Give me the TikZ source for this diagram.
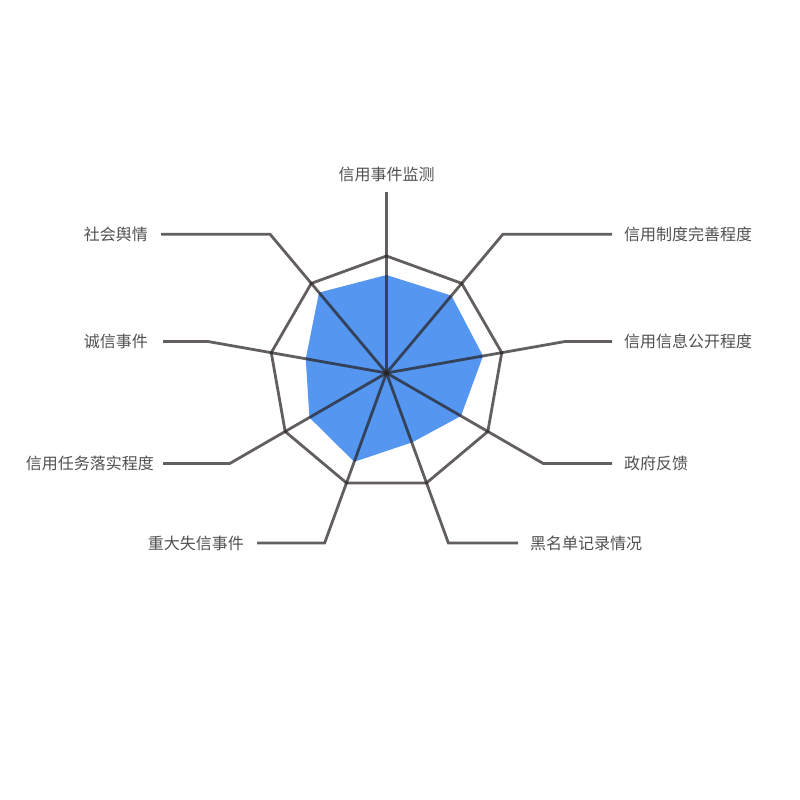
\documentclass[tikz,border=0pt]{standalone}
\usepackage{fontspec}
\usetikzlibrary{calc}
\newfontfamily\cjk{Noto Sans CJK SC}
\definecolor{fillblue}{RGB}{84,150,240}
\definecolor{linedark}{RGB}{40,33,33}
\definecolor{labelgray}{RGB}{80,80,80}
\begin{document}
\begin{tikzpicture}[x=1pt,y=1pt,
  gridline/.style={draw=linedark,draw opacity=0.72,line width=2.8pt,line join=miter},
  lbl/.style={font=\cjk\fontsize{16}{16}\selectfont,text=labelgray,inner sep=0pt},
  datafill/.style={fill=fillblue}]
\useasboundingbox (0,0) rectangle (800,800);
\coordinate (C) at (386.5,427);
% data polygon
\fill[datafill] ($(C)+(90:98)$) -- ($(C)+(50:101)$) -- ($(C)+(10:98)$) -- ($(C)+(-30:86)$)
  -- ($(C)+(-70:74)$) -- ($(C)+(-110:94.5)$) -- ($(C)+(-150:89)$) -- ($(C)+(170:82)$)
  -- ($(C)+(130:105)$) -- cycle;
% outer nonagon
\draw[gridline] ($(C)+(90:117)$) -- ($(C)+(50:117)$) -- ($(C)+(10:117)$) -- ($(C)+(-30:117)$)
  -- ($(C)+(-70:117)$) -- ($(C)+(-110:117)$) -- ($(C)+(-150:117)$) -- ($(C)+(170:117)$)
  -- ($(C)+(130:117)$) -- cycle;
% elbows and ends
\coordinate (e1) at ($(C)+(90:181)$);
\coordinate (e2) at ($(C)+(50:181)$);
\coordinate (e3) at ($(C)+(10:181)$);
\coordinate (e4) at ($(C)+(-30:181)$);
\coordinate (e5) at ($(C)+(-70:181)$);
\coordinate (e6) at ($(C)+(-110:181)$);
\coordinate (e7) at ($(C)+(-150:181)$);
\coordinate (e8) at ($(C)+(170:181)$);
\coordinate (e9) at ($(C)+(130:181)$);
\coordinate (f2) at (612,0|-e2);
\coordinate (f3) at (612,0|-e3);
\coordinate (f4) at (612,0|-e4);
\coordinate (f5) at (518,0|-e5);
\coordinate (f6) at (257,0|-e6);
\coordinate (f7) at (163,0|-e7);
\coordinate (f8) at (163,0|-e8);
\coordinate (f9) at (161,0|-e9);
% spokes
\draw[gridline] (C) -- (e1);
\draw[gridline] (C) -- (e2) -- (f2);
\draw[gridline] (C) -- (e3) -- (f3);
\draw[gridline] (C) -- (e4) -- (f4);
\draw[gridline] (C) -- (e5) -- (f5);
\draw[gridline] (C) -- (e6) -- (f6);
\draw[gridline] (C) -- (e7) -- (f7);
\draw[gridline] (C) -- (e8) -- (f8);
\draw[gridline] (C) -- (e9) -- (f9);
% labels
\node[lbl,anchor=south] (l1) at ($(e1)+(0,10)$) {信用事件监测};
\node[lbl,anchor=west] (l2) at ($(f2)+(12,0)$) {信用制度完善程度};
\node[lbl,anchor=west] (l3) at ($(f3)+(12,0)$) {信用信息公开程度};
\node[lbl,anchor=west] (l4) at ($(f4)+(12,0)$) {政府反馈};
\node[lbl,anchor=west] (l5) at ($(f5)+(12,0)$) {黑名单记录情况};
\node[lbl,anchor=east] (l6) at ($(f6)+(-13,0)$) {重大失信事件};
\node[lbl,anchor=east] (l7) at ($(f7)+(-9,0)$) {信用任务落实程度};
\node[lbl,anchor=east] (l8) at ($(f8)+(-15,0)$) {诚信事件};
\node[lbl,anchor=east] (l9) at ($(f9)+(-13,0)$) {社会舆情};
\end{tikzpicture}
\end{document}
